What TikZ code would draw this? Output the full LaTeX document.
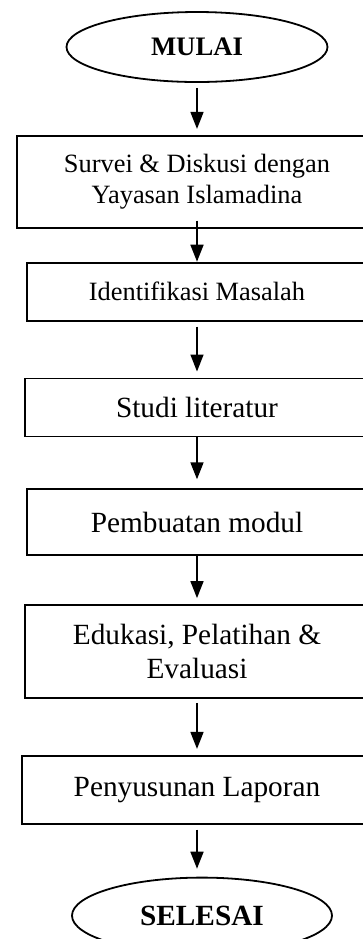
\documentclass[tikz,border=0pt]{standalone}
\usepackage{fontspec}
\setmainfont{Liberation Serif}
\usetikzlibrary{positioning,shapes.geometric,arrows.meta}

\tikzset{
  terminal/.style={ellipse, draw, line width=0.9pt, inner sep=0pt},
  process/.style={rectangle, draw, line width=0.9pt, inner sep=0pt, align=center},
  flow/.style={-{Triangle[width=6.5pt,length=8.5pt]}, line width=0.8pt,
               shorten <=2.5pt, shorten >=3pt},
  smalltext/.style={font=\fontsize{13.2}{15.6}\selectfont},
  largetext/.style={font=\fontsize{14.65}{16.8}\selectfont},
}

\begin{document}
\begin{tikzpicture}

  \useasboundingbox (0,0) rectangle (181.5pt,-469.5pt);
  \clip (0,0) rectangle (181.5pt,-469.5pt);

  % Define nodes
  \node[terminal, font=\fontsize{13.35}{15.6}\selectfont\bfseries,
        minimum width=130.5pt, minimum height=35pt] at (98.5pt,-23.5pt) (mulai) {MULAI};
  \node[process, smalltext, minimum width=180pt, minimum height=46pt,
        below=26pt of mulai]      (survei)   {Survei \& Diskusi dengan\\Yayasan Islamadina};
  \node[process, smalltext, minimum width=170pt, minimum height=29pt,
        below=16.5pt of survei]   (masalah)  {Identifikasi Masalah};
  \node[process, largetext, minimum width=172pt, minimum height=29pt,
        below=28pt of masalah]    (studi)    {Studi literatur};
  \node[process, largetext, minimum width=170pt, minimum height=33pt,
        below=25.5pt of studi]    (modul)    {Pembuatan modul};
  \node[process, largetext, minimum width=172pt, minimum height=46.5pt,
        below=24pt of modul]      (edukasi)  {Edukasi, Pelatihan \&\\Evaluasi};
  \node[process, largetext, minimum width=175pt, minimum height=34pt,
        below=28pt of edukasi]    (laporan)  {Penyusunan Laporan};
  \node[terminal, font=\fontsize{14.65}{16.8}\selectfont\bfseries,
        minimum width=130pt, minimum height=38pt,
        below=26pt of laporan, xshift=2.5pt] (selesai) {SELESAI};

  % Connect the nodes
  \draw[flow] (mulai) -- (survei);
  \draw[flow, shorten <=-4pt, shorten >=0pt] (survei) -- (masalah);
  \draw[flow] (masalah) -- (studi);
  \draw[flow, shorten <=0pt, shorten >=4.5pt] (studi) -- (modul);
  \draw[flow, shorten <=0pt] (modul) -- (edukasi);
  \draw[flow, shorten <=2pt] (edukasi) -- (laporan);
  \draw[flow, shorten >=4pt] (laporan.south) -- (laporan.south |- selesai.north);
\end{tikzpicture}
\end{document}
